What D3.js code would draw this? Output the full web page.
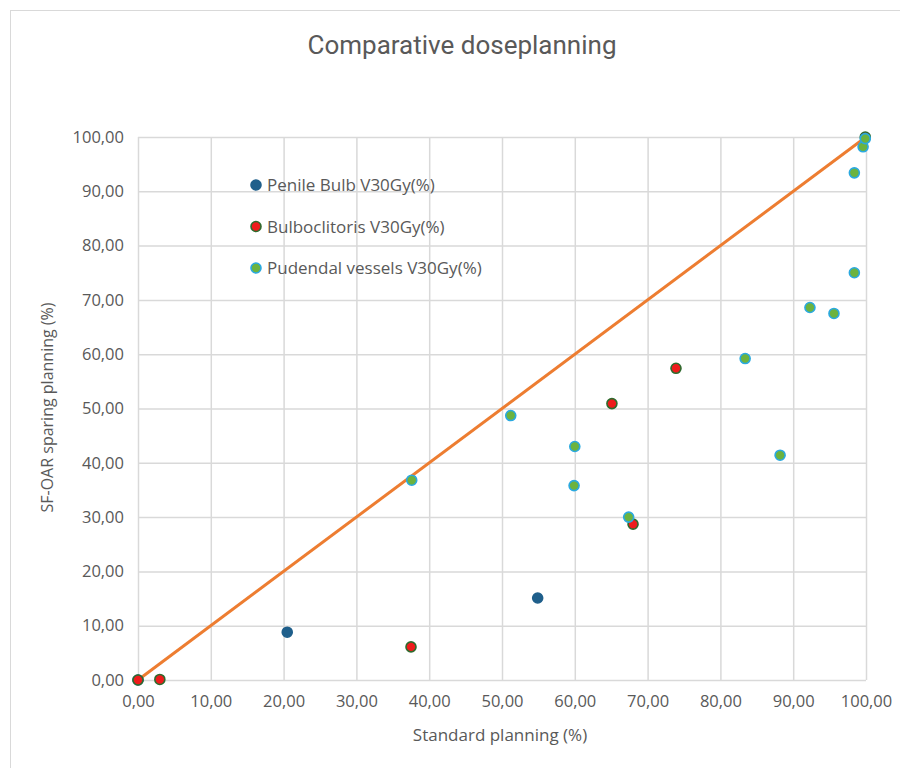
<!DOCTYPE html>
<html>
<head>
<meta charset="utf-8">
<script src="https://cdn.jsdelivr.net/npm/d3@7"></script>
<style>
  body { margin: 0; background: #fff; }
  text { font-family: "Open Sans", "Noto Sans", sans-serif; fill: #595959; }
</style>
</head>
<body>
<div id="chart-container"></div>
<script>
const margin = {top: 137, right: 34, bottom: 88, left: 138};
const width = 900 - margin.left - margin.right;
const height = 768 - margin.top - margin.bottom;

const chartTitle = "Comparative doseplanning";
const xAxisName = "Standard planning (%)";
const yAxisName = "SF-OAR sparing planning (%)";

const tickValues = [0, 10, 20, 30, 40, 50, 60, 70, 80, 90, 100];

// Series: [standard, sf-oar]
const seriesNames = ["Penile Bulb V30Gy(%)", "Bulboclitoris V30Gy(%)", "Pudendal vessels V30Gy(%)"];
const penileBulb = [[0, 0], [20.5, 8.8], [54.9, 15.1]];
const bulboclitoris = [[0, 0], [3.0, 0.1], [37.5, 6.1], [68.0, 28.7], [65.1, 50.9], [73.9, 57.4], [99.9, 100]];
const pudendal = [[37.6, 36.8], [51.2, 48.7], [60.0, 43.0], [59.9, 35.8], [67.4, 30.0], [83.4, 59.2],
                  [88.2, 41.4], [92.3, 68.6], [95.6, 67.5], [98.4, 75.0], [98.4, 93.4], [99.6, 98.2], [99.9, 99.7]];
const identityLine = [[0, 0], [100, 100]];

const seriesFill = ["#1f5f8b", "#ee1c1c", "#6cb33f"];
const seriesStroke = ["#1f5f8b", "#2e6b2e", "#2aa9e0"];

var svg = d3.select("#chart-container")
    .append("svg")
    .attr("width", 900)
    .attr("height", 768);

// outer frame
svg.append("rect")
    .attr("x", 10.5)
    .attr("y", 10.5)
    .attr("width", 900)
    .attr("height", 800)
    .attr("fill", "#fff")
    .attr("stroke", "#d9d9d9");

svg.append("text")
    .attr("x", 462)
    .attr("y", 54)
    .attr("text-anchor", "middle")
    .style("font-family", "Roboto, sans-serif")
    .style("font-size", "26px")
    .text(chartTitle);

var g = svg.append("g")
    .attr("transform", `translate(${margin.left}, ${margin.top})`);

var xScale = d3.scaleLinear().domain([0, 100]).range([0, width]);
var yScale = d3.scaleLinear().domain([0, 100]).range([height, 0]);

const fmt = d => d3.format(".2f")(d).replace(".", ",");

// gridlines
g.append("g")
    .attr("class", "grid")
    .attr("transform", `translate(0, ${height})`)
    .call(d3.axisBottom(xScale).tickValues(tickValues).tickSize(-height).tickFormat(""))
    .call(a => a.select(".domain").remove())
    .selectAll(".tick line")
    .attr("stroke", "#d9d9d9")
    .attr("stroke-width", 1.5);

g.append("g")
    .attr("class", "grid")
    .call(d3.axisLeft(yScale).tickValues(tickValues).tickSize(-width).tickFormat(""))
    .call(a => a.select(".domain").remove())
    .selectAll(".tick line")
    .attr("stroke", "#d9d9d9")
    .attr("stroke-width", 1.5);

// x axis labels
g.append("g")
    .attr("transform", `translate(0, ${height})`)
    .call(d3.axisBottom(xScale).tickValues(tickValues).tickSize(0).tickPadding(15).tickFormat(fmt))
    .call(a => a.select(".domain").remove())
    .style("font-size", "16.5px");

// y axis labels
g.append("g")
    .call(d3.axisLeft(yScale).tickValues(tickValues).tickSize(0).tickPadding(14).tickFormat(fmt))
    .call(a => a.select(".domain").remove())
    .style("font-size", "16.5px");

g.selectAll(".tick text").attr("fill", "#595959").style("font-family", "\"Open Sans\", sans-serif");

g.append("text")
    .attr("x", width / 2 - 2)
    .attr("y", height + 61)
    .attr("text-anchor", "middle")
    .style("font-size", "17px")
    .text(xAxisName);

g.append("text")
    .attr("transform", "rotate(-90)")
    .attr("x", -height / 2 + 1)
    .attr("y", -85)
    .attr("text-anchor", "middle")
    .style("font-size", "16px")
    .text(yAxisName);

// identity line
var line = d3.line()
    .x(d => xScale(d[0]))
    .y(d => yScale(d[1]));

g.append("path")
    .datum(identityLine)
    .attr("fill", "none")
    .attr("stroke", "#ed7d31")
    .attr("stroke-width", 3)
    .attr("d", line);

// points
[penileBulb, bulboclitoris, pudendal].forEach(function (data, i) {
    g.append("g")
        .selectAll("circle")
        .data(data)
        .join("circle")
        .attr("cx", d => xScale(d[0]))
        .attr("cy", d => yScale(d[1]))
        .attr("r", 5)
        .attr("fill", seriesFill[i])
        .attr("stroke", seriesStroke[i])
        .attr("stroke-width", 1.6);
});

// legend
var legend = svg.append("g").attr("transform", "translate(256, 185)");
seriesNames.forEach(function (name, i) {
    var item = legend.append("g").attr("transform", `translate(0, ${i * 41.5})`);
    item.append("circle")
        .attr("r", 5)
        .attr("fill", seriesFill[i])
        .attr("stroke", seriesStroke[i])
        .attr("stroke-width", 1.6);
    item.append("text")
        .attr("x", 11)
        .attr("y", 6)
        .style("font-size", "17px")
        .text(name);
});
</script>
</body>
</html>
